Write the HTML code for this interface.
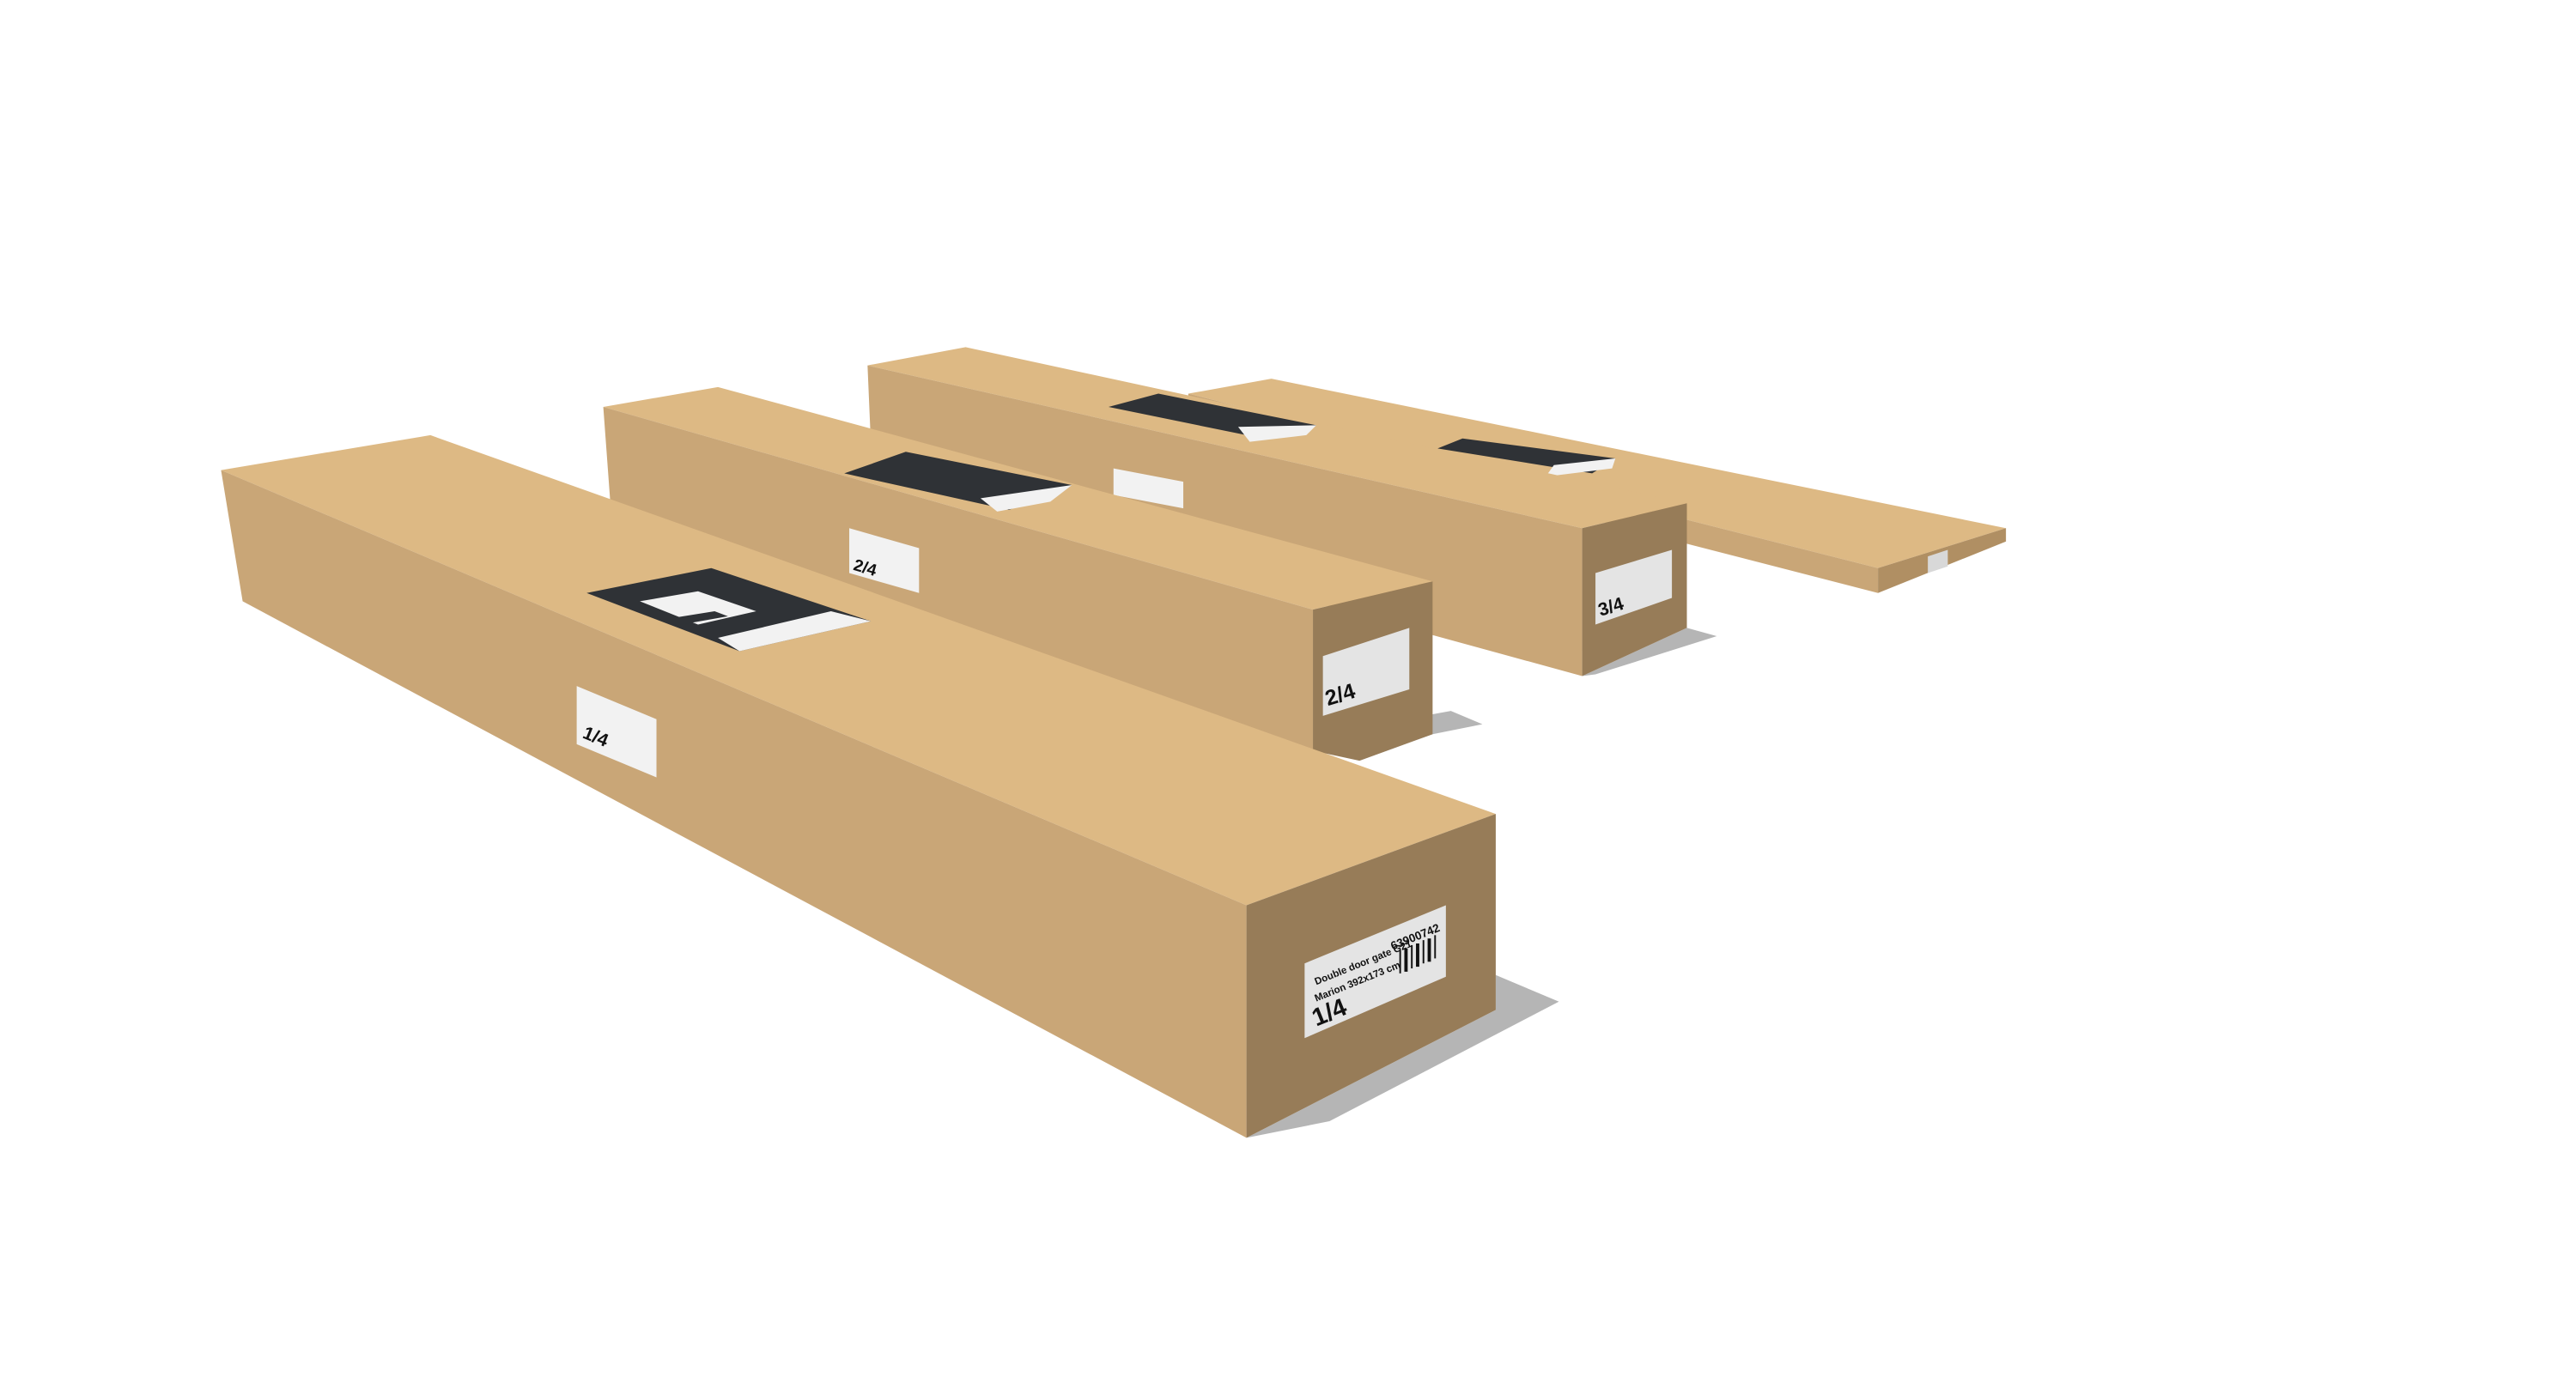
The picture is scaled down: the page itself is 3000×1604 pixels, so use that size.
<!DOCTYPE html>
<html><head><meta charset="utf-8"><style>
html,body{margin:0;padding:0;background:#fff;}
svg{display:block;}
text{font-family:"Liberation Sans",sans-serif;font-weight:bold;fill:#111;}
</style></head><body>
<svg width="3000" height="1604" viewBox="0 0 1550 829" preserveAspectRatio="none" xmlns="http://www.w3.org/2000/svg">
<rect width="1550" height="829" fill="#fff"/>
<!-- Box 4 flat -->
<polygon points="715,237 765,228 1207,318 1130,342" fill="#DDB984"/>
<polygon points="715,237 1130,342 1130,357 715,250" fill="#C9A677"/>
<polygon points="1130,342 1207,318 1207,326 1130,357" fill="#B08F63"/>
<polygon points="1160,335 1172,331 1172,341 1160,345" fill="#d8d8d8"/>
<polygon points="865,270 880,264 972,276 958,285" fill="#2f3236"/>
<polygon points="935,280 972,276 970,282 930,287" fill="#f2f2f2"/>
<!-- Box 3 -->
<polygon points="952,407 1015,378 1033,383 960,406" fill="#b5b5b5"/>
<polygon points="522,220 581,209 1015,303 952,318" fill="#DDB984"/>
<polygon points="522,220 952,318 952,407 525,290" fill="#C9A677"/>
<polygon points="952,318 1015,303 1015,378 952,407" fill="#977C58"/>
<polygon points="667,245 697,237 792,256 760,264" fill="#2f3236"/>
<polygon points="745,257 792,256 786,262 752,266" fill="#f2f2f2"/>
<polygon points="670,282 712,290 712,306 670,298" fill="#f2f2f2"/>
<polygon points="960,345 1006,331 1006,360 960,376" fill="#e4e4e4"/>
<text x="963" y="371" font-size="11" transform="rotate(-17 963 371)">3/4</text>
<!-- Box 2 -->
<polygon points="818,458 862,442 892,436 873,428 862,430" fill="#b5b5b5"/>
<polygon points="363,245 432,233 862,350 790,367" fill="#DDB984"/>
<polygon points="363,245 790,367 790,470 818,470 370,340" fill="#C9A677"/>
<polygon points="790,367 862,350 862,442 818,458 790,452" fill="#977C58"/>
<polygon points="508,285 545,272 645,292 607,307" fill="#2f3236"/>
<polygon points="590,300 645,292 632,302 600,308" fill="#f2f2f2"/>
<polygon points="511,318 553,330 553,357 511,345" fill="#f2f2f2"/>
<text x="513" y="343" font-size="10" transform="rotate(16 513 343)">2/4</text>
<polygon points="796,395 848,378 848,415 796,431" fill="#e4e4e4"/>
<text x="799" y="425" font-size="13" transform="rotate(-17 799 425)">2/4</text>
<!-- Box 1 -->
<polygon points="750,685 800,675 938,603 900,587 900,608" fill="#b5b5b5"/>
<polygon points="133,283 259,262 900,490 750,545" fill="#DDB984"/>
<polygon points="133,283 750,545 750,685 146,362" fill="#C9A677"/>
<polygon points="750,545 900,490 900,608 750,685" fill="#977C58"/>
<polygon points="353,357 428,342 524,374 445,392" fill="#2f3236"/>
<polygon points="385,362 420,356 455,368 420,376" fill="#f2f2f2"/>
<polygon points="405,372 430,368 438,371 410,376" fill="#2f3236"/>
<polygon points="432,384 500,368 524,374 445,392" fill="#f2f2f2"/>
<polygon points="347,413 395,433 395,468 347,448" fill="#f2f2f2"/>
<text x="350" y="444" font-size="11" transform="rotate(22 350 444)">1/4</text>
<polygon points="785,580 870,545 870,588 785,625" fill="#e4e4e4"/>
<text x="792" y="593" font-size="6" transform="rotate(-22 792 593)">Double door gate G21</text>
<text x="792" y="603" font-size="6" font-weight="normal" transform="rotate(-22 792 603)">Marion 392x173 cm</text>
<text x="792" y="618" font-size="15" transform="rotate(-22 792 618)">1/4</text>
<text x="838" y="572" font-size="7" transform="rotate(-22 838 572)">63900742</text>
<g fill="#111"><rect x="842" y="572" width="1" height="14"/><rect x="845" y="571" width="2" height="14"/><rect x="849" y="569" width="1" height="14"/><rect x="852" y="568" width="2" height="14"/><rect x="856" y="566" width="1" height="14"/><rect x="859" y="565" width="2" height="14"/><rect x="863" y="563" width="1" height="14"/></g>
</svg>
</body></html>
